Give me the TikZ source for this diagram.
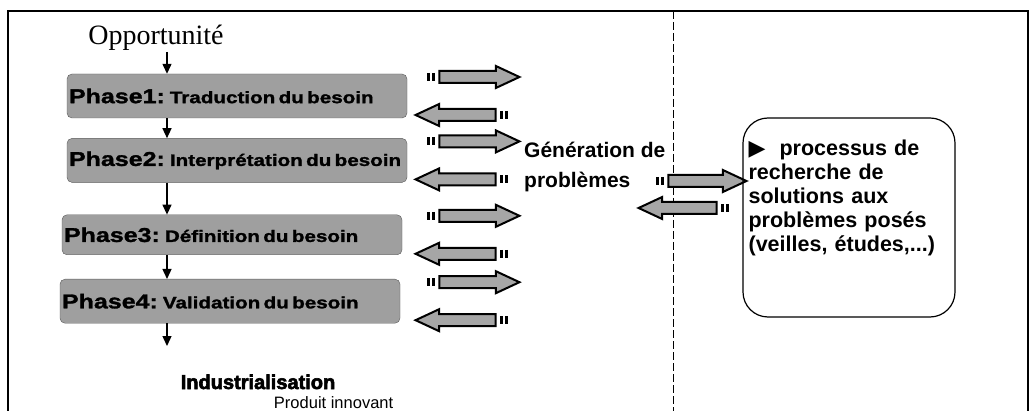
\documentclass[tikz,border=0pt]{standalone}
\usepackage{fontspec}
\setmainfont{Liberation Serif}
\newfontfamily\arialfont{Liberation Sans}
\newfontfamily\widefont{Liberation Sans}[FakeStretch=1.25, BoldFeatures={FakeBold=1.5}]
\newfontfamily\heavyfont{Liberation Sans}[BoldFeatures={FakeBold=3}]
\newfontfamily\symfont{DejaVu Sans}
\usetikzlibrary{positioning,shapes.arrows,arrows.meta}

\begin{document}
\begin{tikzpicture}[x=1pt,y=-1pt,node distance=20pt]
	\tikzstyle{phase_box}
	  =[draw=gray!70!black, fill=gray!75, rounded corners=5pt, text width=336pt,
	  inner xsep=2pt, minimum height=44pt, align=left, font=\widefont\bfseries]
	\tikzstyle{flow}
	  =[line width=1.3pt, -{Triangle[length=10pt,width=9pt]}]
	\tikzstyle{fat_arrow}
	  =[single arrow, draw=black, line width=2pt, fill=gray!70, minimum height=80pt,
	  inner xsep=0pt, inner ysep=5pt, single arrow head extend=5pt, single arrow tip angle=50]
	\tikzstyle{fat_left}
	  =[fat_arrow, shape border rotate=180]
	\tikzstyle{tick}
	  =[line width=2.2pt]
	\tikzstyle{bold_sans}
	  =[font=\arialfont\bfseries\fontsize{21}{30}\selectfont, align=left, inner sep=0pt]
	\newcommand{\phaselabel}[2]{\mbox{{\fontsize{20}{22}\selectfont #1}\fontsize{16.5}{18}\selectfont{} #2}}

	\useasboundingbox (0,0) rectangle (1032,411);
	% cadre et separation
	\draw[line width=1.2pt] (8,411) |- (1028,11) -- (1028,411);
	\draw[line width=0.9pt, dash pattern=on 8pt off 3pt] (673,11) -- (673,411);

	\coordinate (spine) at (167,0);
	\coordinate (col_r) at (473,0);
	\coordinate (col_l) at (462,0);

	\node[font=\fontsize{28}{30}\selectfont, inner sep=1pt] (opp)
	  at (156,38) {Opportunité};

	\node[phase_box] (P1)
	  at (237,96) {\phaselabel{Phase1:}{Traduction du besoin}};
	\node[phase_box] (P2)
	  [below=20pt of P1] {\phaselabel{Phase2:}{Interprétation du besoin}};
	\node[phase_box, minimum height=40pt] (P3)
	  [below=32pt of P2, xshift=-5pt] {\phaselabel{Phase3:}{Définition du besoin}};
	\node[phase_box] (P4)
	  [below=24pt of P3, xshift=-2pt] {\phaselabel{Phase4:}{Validation du besoin}};
	\coordinate (fin) at (167,346);

	\draw[flow] (opp.south -| spine) -- (P1.north -| spine);
	\draw[flow] (P1.south -| spine) -- (P2.north -| spine);
	\draw[flow] (P2.south -| spine) -- (P3.north -| spine);
	\draw[flow] (P3.south -| spine) -- (P4.north -| spine);
	\draw[flow] (P4.south -| spine) -- (fin);

	\foreach \i in {1,...,4} {
	  \node[fat_arrow, yshift=19pt] (r\i) at (P\i.center -| col_r) {};
	  \node[fat_left, yshift=-19pt] (l\i) at (P\i.center -| col_l) {};
	}

	\node[bold_sans, anchor=north west] (gen)
	  at (524,142) {Génération de\\problèmes};
	\node[fat_arrow, minimum height=78pt] (rg) at (701,181) {};
	\node[fat_left, minimum height=78pt] (lg) at (684,208) {};

	\foreach \n in {r1,r2,r3,r4,rg}
	  \draw[tick] ([xshift=-5pt,yshift=4pt]\n.tail) -- ++(0,8)
	    ([xshift=-10pt,yshift=4pt]\n.tail) -- ++(0,8);
	\foreach \n in {l1,l2,l3,l4,lg}
	  \draw[tick] ([xshift=5pt,yshift=4pt]\n.tail) -- ++(0,8)
	    ([xshift=10pt,yshift=4pt]\n.tail) -- ++(0,8);

	\node[draw, line width=1.2pt, rounded corners=25pt, minimum width=212pt,
	  minimum height=199pt] (sol) at (849,217.5) {};
	\node[bold_sans, font=\arialfont\bfseries\fontsize{21.5}{24}\selectfont,
	  text width=206pt, anchor=north west] (sol_txt)
	  at ([xshift=6pt,yshift=-22pt]sol.north west)
	  {{\symfont\fontsize{22}{24}\selectfont ▶}\hspace{14pt}processus de\\recherche de\\solutions aux\\problèmes posés\\(veilles, études,...)};

	\node[font=\heavyfont\bfseries\fontsize{20}{22}\selectfont, anchor=base] (ind)
	  at (258,389) {Industrialisation};
	\node[font=\arialfont\fontsize{16.5}{18}\selectfont, anchor=base east] (prod)
	  at ([xshift=58pt,yshift=-19pt]ind.base east) {Produit innovant};
\end{tikzpicture}
\end{document}
